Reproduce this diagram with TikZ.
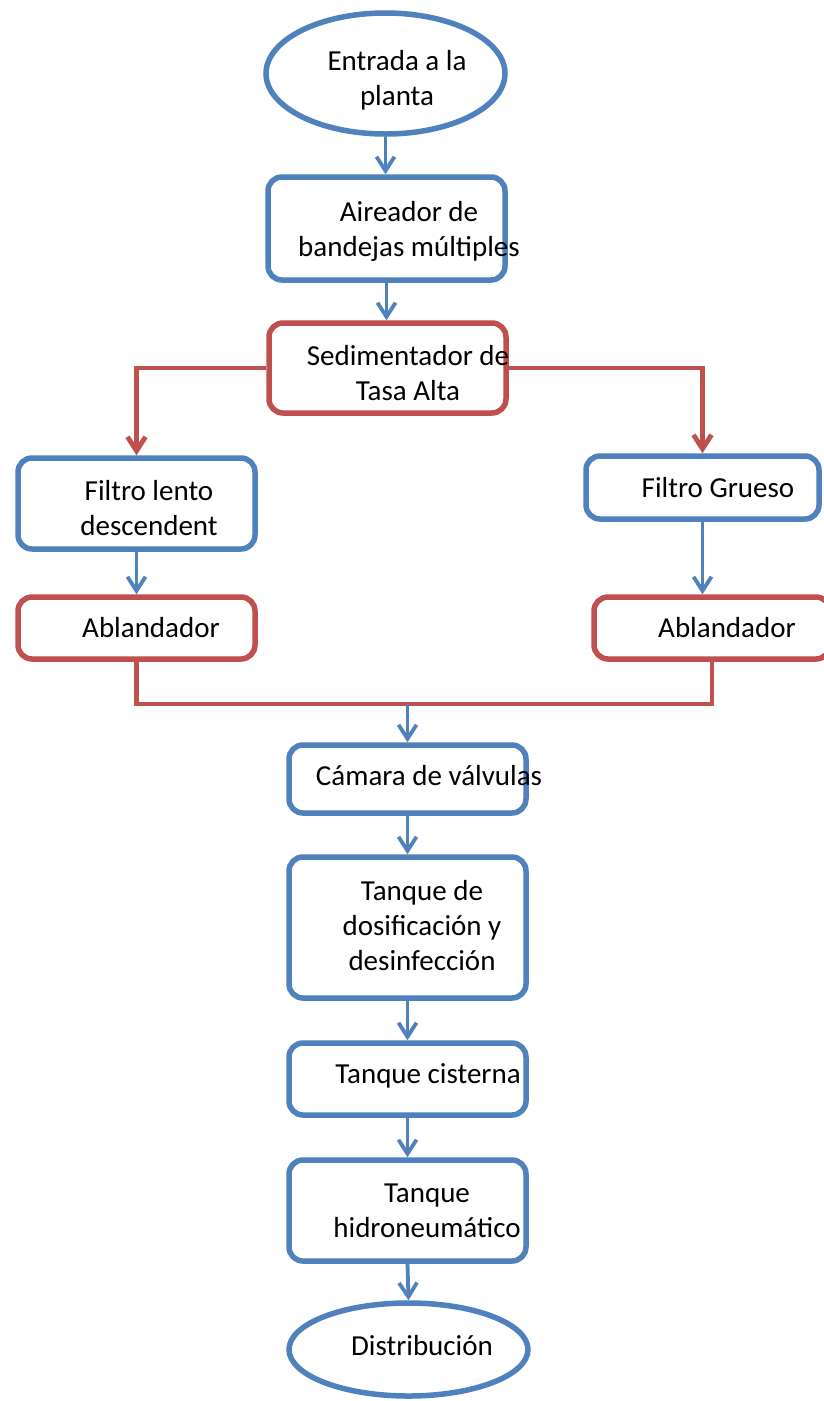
\documentclass[tikz,border=0pt]{standalone}
\usepackage{fontspec}
\setmainfont{Carlito}
\usetikzlibrary{arrows.meta,shapes.geometric}
\definecolor{azul}{HTML}{4F81BD}
\definecolor{rojo}{HTML}{C0504D}
\tikzset{
  caja/.style={draw=azul, line width=5.5pt, rounded corners=14pt, minimum width=237pt, inner sep=0pt},
  cajaroja/.style={caja, draw=rojo},
  elipse/.style={draw=azul, line width=5.5pt, ellipse, minimum width=239pt, inner sep=0pt},
  texto/.style={align=center, font=\fontsize{29}{35}\selectfont, inner sep=0pt},
  flecha/.style={azul, line width=3.8pt, -{Straight Barb[length=14pt,width=18pt]}},
  flecharoja/.style={flecha, rojo, line width=4.8pt},
  linearoja/.style={rojo, line width=4.8pt},
}

\begin{document}
\begin{tikzpicture}[x=1pt, y=-1pt]
  \useasboundingbox (0,0) rectangle (823,1401);
  \fill[white] (0,0) rectangle (823,1401);

  % Cajas
  \node[elipse, minimum height=121pt] (entrada) at (385.5,73.5) {};
  \node[caja, minimum height=103pt] (aireador) at (386.5,228.5) {};
  \node[cajaroja, minimum height=90pt] (sedim) at (387.5,368) {};
  \node[caja, minimum height=91pt] (lento) at (136.5,503.5) {};
  \node[caja, minimum width=233pt, minimum height=63pt] (grueso) at (702.5,487.5) {};
  \node[cajaroja, minimum height=62pt] (ablizq) at (136.5,628) {};
  \node[cajaroja, minimum width=236pt, minimum height=62pt] (ablder) at (712,628) {};
  \node[caja, minimum height=68pt] (camara) at (407.5,779) {};
  \node[caja, minimum height=141pt] (dosif) at (407.5,927.5) {};
  \node[caja, minimum height=72pt] (cisterna) at (407.5,1079) {};
  \node[caja, minimum height=101pt] (hidro) at (407.5,1210.5) {};
  \node[elipse, minimum height=93pt] (distrib) at (408.5,1349.5) {};

  % Textos
  \node[texto] (entrada-t) at (397,80.7) {Entrada a la\\planta};
  \node[texto] (aireador-t) at (409,231) {Aireador de\\bandejas múltiples};
  \node[texto] (sedim-t) at (408,373) {Sedimentador de\\Tasa Alta};
  \node[texto] (lento-t) at (149,508) {Filtro lento\\descendent};
  \node[texto] (grueso-t) at (718,487.5) {Filtro Grueso};
  \node[texto] (ablizq-t) at (151,627.5) {Ablandador};
  \node[texto] (ablder-t) at (727,627.5) {Ablandador};
  \node[texto] (camara-t) at (429,775.5) {Cámara de válvulas};
  \node[texto] (dosif-t) at (422,925.5) {Tanque de\\dosificación y\\desinfección};
  \node[texto] (cisterna-t) at (428,1076) {Tanque cisterna};
  \node[texto] (hidro-t) at (427,1211) {Tanque\\hidroneumático};
  \node[texto] (distrib-t) at (422,1345.5) {Distribución};

  % Conectores
  \draw[flecha] (entrada.south) -- (entrada.south |- aireador.north);
  \draw[flecha] (aireador.south) -- (aireador.south |- sedim.north);
  \draw[flecharoja] (sedim.west) -| (lento.north);
  \draw[flecharoja] (sedim.east) -| (grueso.north);
  \draw[flecha] (lento.south) -- (ablizq.north);
  \draw[flecha] (grueso.south) -- (grueso.south |- ablder.north);
  \coordinate (union) at (407.5,704);
  \draw[linearoja] (ablizq.south) |- (union) -| (ablder.south);
  \draw[flecha] (union) -- (camara.north);
  \draw[flecha] (camara.south) -- (dosif.north);
  \draw[flecha] (dosif.south) -- (cisterna.north);
  \draw[flecha] (cisterna.south) -- (hidro.north);
  \draw[flecha] (hidro.south) -- (distrib.north);
\end{tikzpicture}
\end{document}
